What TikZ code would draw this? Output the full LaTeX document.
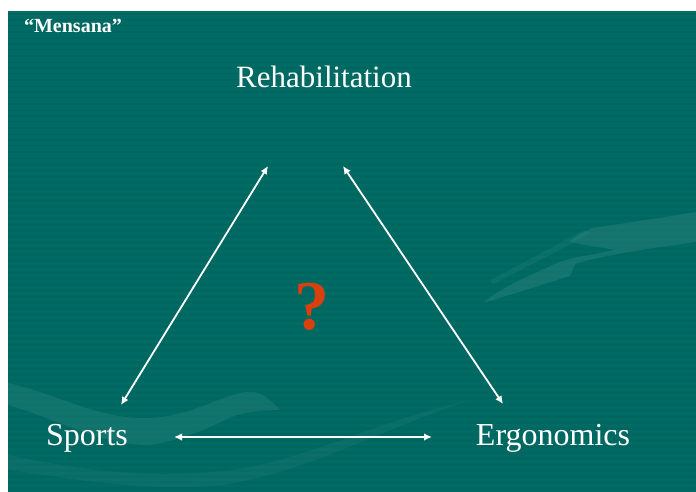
\documentclass[tikz,border=0pt]{standalone}
\usepackage{fontspec}
\setmainfont{Liberation Serif}
\usetikzlibrary{arrows.meta}
\definecolor{slidebg}{HTML}{006B64}
\definecolor{stripe}{HTML}{005F59}
\definecolor{handlight}{HTML}{3A8C85}
\definecolor{qred}{HTML}{D8400E}
\tikzset{
  lbl/.style={text=white, inner sep=0pt},
  biarrow/.style={draw=white, line width=1.8pt, {Latex[length=8pt,width=7.5pt]}-{Latex[length=8pt,width=7.5pt]}},
  ghost/.style={fill=handlight, fill opacity=0.35, draw=none}
}
\begin{document}
\begin{tikzpicture}[x=1pt,y=-1pt]
\useasboundingbox (0,0) rectangle (696,492);
\fill[white] (0,0) rectangle (696,492);
\fill[slidebg] (8,11) rectangle (696,492);
% stripes
\foreach \yy in {13,19,...,490} {
  \fill[stripe, opacity=0.35] (8,\yy) rectangle (696,\yy+2.5);
}
% faint background hands
\fill[ghost] (483,303) .. controls (520,292) and (550,282) .. (570,276)
  -- (575,264) .. controls (600,256) and (650,248) .. (696,242)
  -- (696,212) .. controls (660,218) and (620,224) .. (592,228)
  .. controls (585,232) and (575,236) .. (570,242)
  .. controls (590,246) and (605,248) .. (615,250)
  .. controls (590,255) and (570,258) .. (560,262)
  .. controls (530,275) and (500,288) .. (483,303) -- cycle;
\fill[ghost, fill opacity=0.2] (490,280) .. controls (520,265) and (555,245) .. (585,230)
  -- (590,233) .. controls (560,250) and (525,268) .. (493,284) -- cycle;
\fill[ghost, fill opacity=0.3] (8,383) .. controls (60,395) and (100,420) .. (150,418)
  .. controls (190,416) and (215,398) .. (245,392)
  .. controls (262,390) and (270,400) .. (280,410)
  .. controls (260,410) and (240,412) .. (225,420)
  .. controls (200,432) and (180,440) .. (150,445)
  .. controls (100,445) and (60,420) .. (8,405) -- cycle;
\fill[ghost, fill opacity=0.18] (8,455) .. controls (80,470) and (150,480) .. (230,470)
  .. controls (300,462) and (380,420) .. (470,400)
  .. controls (380,430) and (300,475) .. (220,485)
  .. controls (150,492) and (80,480) .. (8,470) -- cycle;
% texts
\node[lbl, font=\fontsize{20}{22}\selectfont\bfseries] (mensana) at (73,26) {“Mensana”};
\node[lbl, font=\fontsize{31}{34}\selectfont] (rehab) at (324,77) {Rehabilitation};
\node[lbl, font=\fontsize{32}{35}\selectfont] (sports) at (87,438) {Sports};
\node[lbl, font=\fontsize{32}{35}\selectfont] (ergo) at (553,438) {Ergonomics};
\node[lbl, text=qred, font=\fontsize{70}{74}\selectfont\bfseries] (quest) at (312,307) {?};
% arrow endpoints
\coordinate (rL) at (268,166);
\coordinate (rR) at (343,166);
\coordinate (sT) at (121,405);
\coordinate (eT) at (503,404);
\coordinate (sR) at (174,437);
\coordinate (eL) at (432,437);
\draw[biarrow] (sT) -- (rL);
\draw[biarrow] (rR) -- (eT);
\draw[biarrow] (sR) -- (eL);
\end{tikzpicture}
\end{document}
